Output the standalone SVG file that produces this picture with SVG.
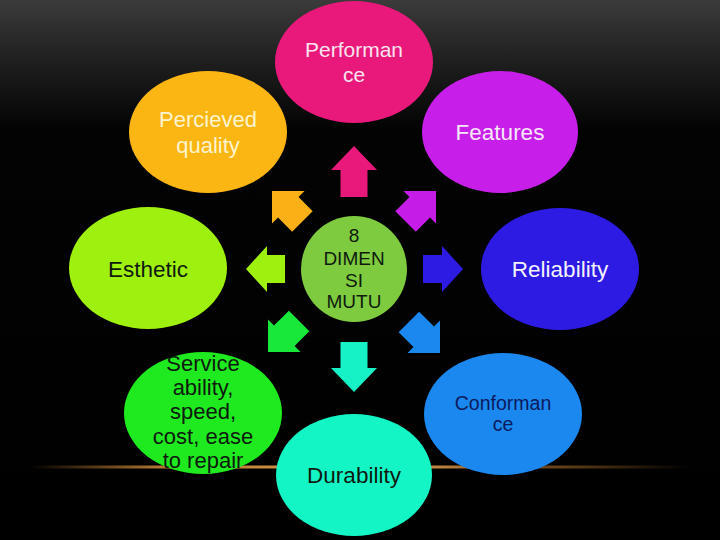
<svg xmlns="http://www.w3.org/2000/svg" width="720" height="540" viewBox="0 0 720 540">
  <defs>
    <linearGradient id="bg" x1="0" y1="0" x2="0" y2="1">
      <stop offset="0" stop-color="#3b3b3b"/>
      <stop offset="0.1" stop-color="#222222"/>
      <stop offset="0.24" stop-color="#030303"/>
      <stop offset="1" stop-color="#000000"/>
    </linearGradient>
    <linearGradient id="glowline" x1="0" y1="0" x2="1" y2="0">
      <stop offset="0" stop-color="#c07a30" stop-opacity="0"/>
      <stop offset="0.2" stop-color="#c8883a" stop-opacity="0.9"/>
      <stop offset="0.55" stop-color="#e0a050" stop-opacity="1"/>
      <stop offset="0.8" stop-color="#a86c2a" stop-opacity="0.6"/>
      <stop offset="1" stop-color="#a06828" stop-opacity="0"/>
    </linearGradient>
    <radialGradient id="halo" cx="0.5" cy="1" r="0.5">
      <stop offset="0" stop-color="#808080" stop-opacity="0.7"/>
      <stop offset="1" stop-color="#808080" stop-opacity="0"/>
    </radialGradient>
    <clipPath id="above">
      <rect x="0" y="400" width="720" height="67"/>
    </clipPath>
  </defs>
  <style>
    text { font-family: "Liberation Sans", Arial, sans-serif; text-anchor: middle; }
    .dark { fill: #0f1a0f; }
    .big { font-size: 22.5px; }
  </style>

  <rect x="0" y="0" width="720" height="540" fill="url(#bg)"/>
  <g id="glow">
    <ellipse cx="360" cy="467" rx="240" ry="40" fill="url(#halo)" clip-path="url(#above)"/>
    <rect x="30" y="465.5" width="660" height="3" fill="url(#glowline)"/>
  </g>

  <g id="connectors">
    <path fill="#e8197a" transform="translate(354,146) rotate(-90)" d="M0,0 L-24,-23 L-24,-13.5 L-51,-13.5 L-51,13.5 L-24,13.5 L-24,23 Z"/>
    <path fill="#16f2c6" transform="translate(354,392) rotate(90)" d="M0,0 L-24,-23 L-24,-13.5 L-50,-13.5 L-50,13.5 L-24,13.5 L-24,23 Z"/>
    <path fill="#2d1be4" transform="translate(463,269)" d="M0,0 L-21,-23 L-21,-14 L-40,-14 L-40,14 L-21,14 L-21,23 Z"/>
    <path fill="#9ef00f" transform="translate(246,269) rotate(180)" d="M0,0 L-21,-23 L-21,-14 L-39,-14 L-39,14 L-21,14 L-21,23 Z"/>
    <path fill="#c51ce8" transform="translate(436,191) rotate(-45)" d="M0,0 L-23,-23 L-23,-14.5 L-43,-14.5 L-43,14.5 L-23,14.5 L-23,23 Z"/>
    <path fill="#fbb116" transform="translate(272,191) rotate(-135)" d="M0,0 L-23,-23 L-23,-14.5 L-43,-14.5 L-43,14.5 L-23,14.5 L-23,23 Z"/>
    <path fill="#17e83a" transform="translate(268,352) rotate(135)" d="M0,0 L-23,-23 L-23,-14.5 L-44,-14.5 L-44,14.5 L-23,14.5 L-23,23 Z"/>
    <path fill="#1a88ee" transform="translate(440,353) rotate(45)" d="M0,0 L-23,-23 L-23,-14.5 L-44,-14.5 L-44,14.5 L-23,14.5 L-23,23 Z"/>
  </g>

  <g id="center">
    <circle cx="354" cy="269" r="53" fill="#7ecb3f"/>
    <text class="dark" font-size="19" x="354" y="242">8</text>
    <text class="dark" font-size="19" x="354" y="265">DIMEN</text>
    <text class="dark" font-size="19" x="354" y="287">SI</text>
    <text class="dark" font-size="19" x="354" y="308">MUTU</text>
  </g>

  <g id="performance">
    <ellipse cx="354" cy="62" rx="79" ry="61" fill="#e8197a"/>
    <text fill="#fbe4f0" font-size="21" x="354" y="57">Performan</text>
    <text fill="#fbe4f0" font-size="21" x="354" y="82">ce</text>
  </g>

  <g id="perceived-quality">
    <ellipse cx="208" cy="132" rx="79" ry="61" fill="#fbb614"/>
    <text fill="#fff4cc" font-size="22" x="208" y="127">Percieved</text>
    <text fill="#fff4cc" font-size="22" x="208" y="153">quality</text>
  </g>

  <g id="features">
    <ellipse cx="500" cy="132" rx="78" ry="61" fill="#c81ee9"/>
    <text fill="#f5e6fa" class="big" x="500" y="140">Features</text>
  </g>

  <g id="esthetic">
    <ellipse cx="148" cy="268" rx="79" ry="61" fill="#9ef00f"/>
    <text class="dark big" x="148" y="277">Esthetic</text>
  </g>

  <g id="reliability">
    <ellipse cx="560" cy="269" rx="79" ry="61" fill="#2d1be4"/>
    <text fill="#f4f2ff" class="big" x="560" y="277">Reliability</text>
  </g>

  <g id="serviceability">
    <ellipse cx="203" cy="413" rx="79" ry="61" fill="#1fea1f"/>
    <text class="dark" font-size="22" x="203" y="371">Service</text>
    <text class="dark" font-size="22" x="203" y="395">ability,</text>
    <text class="dark" font-size="22" x="203" y="419">speed,</text>
    <text class="dark" font-size="22" x="203" y="444">cost, ease</text>
    <text class="dark" font-size="22" x="203" y="468">to repair</text>
  </g>

  <g id="conformance">
    <ellipse cx="503" cy="414" rx="79" ry="61" fill="#1a88ee"/>
    <text fill="#0c1a5c" font-size="19.5" x="503" y="410">Conforman</text>
    <text fill="#0c1a5c" font-size="19.5" x="503" y="431">ce</text>
  </g>

  <g id="durability">
    <ellipse cx="354" cy="475" rx="78" ry="61" fill="#14f5c5"/>
    <text class="dark big" x="354" y="483">Durability</text>
  </g>
</svg>
